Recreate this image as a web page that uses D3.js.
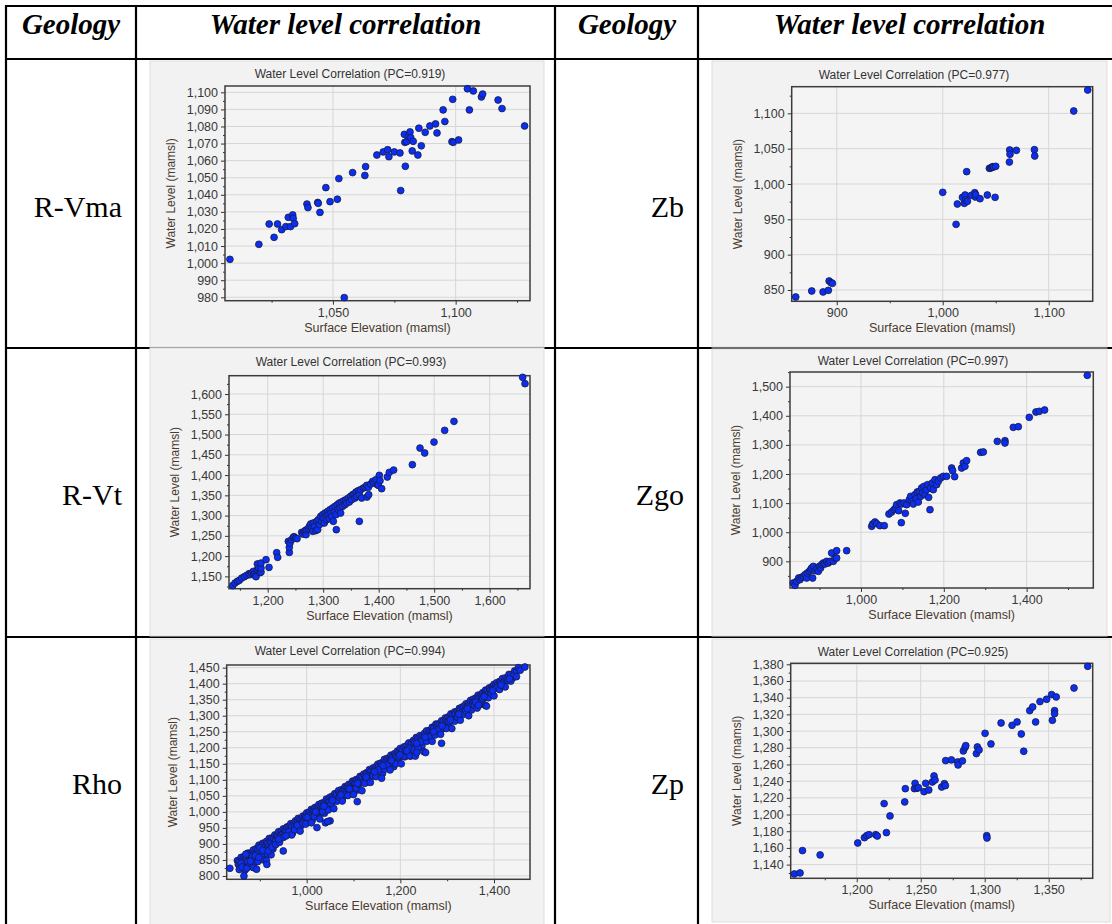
<!DOCTYPE html>
<html>
<head>
<meta charset="utf-8">
<script src="https://cdn.jsdelivr.net/npm/d3@7/dist/d3.min.js"></script>
<style>
  html, body { margin: 0; padding: 0; background: #ffffff; overflow: hidden; }
  svg { display: block; }
</style>
</head>
<body>
<svg id="sheet" width="1112" height="924"></svg>
<script>
// ---- table content ----
const headerLabels = ["Geology", "Water level correlation", "Geology", "Water level correlation"];
const geologyUnits = ["R-Vma", "Zb", "R-Vt", "Zgo", "Rho", "Zp"];
const pcValues = [0.919, 0.977, 0.993, 0.997, 0.994, 0.925];

// ---- scatter data: [surface elevation, water level] in mamsl ----
const rvmaPoints = [
  [1008.0,1002.2],[1019.8,1011.0],[1024.0,1022.9],[1026.0,1015.1],[1027.4,1022.9],[1029.1,1019.6],
  [1030.8,1021.4],[1031.8,1026.8],[1032.7,1021.4],[1033.6,1028.2],[1033.8,1026.2],[1034.4,1023.1],
  [1039.4,1034.6],[1039.8,1032.5],[1043.8,1035.5],[1044.0,1035.0],[1044.7,1029.7],[1047.1,1044.2],
  [1048.8,1036.0],[1051.8,1037.4],[1052.4,1049.5],[1054.6,979.8],[1058.0,1053.0],[1063.0,1051.3],
  [1063.3,1056.5],[1067.9,1063.3],[1070.5,1065.1],[1072.3,1066.4],[1072.8,1062.3],[1075.0,1065.1],
  [1077.3,1064.5],[1077.6,1042.5],[1079.1,1075.4],[1079.3,1070.7],[1079.5,1056.7],[1080.0,1071.1],
  [1080.7,1074.1],[1081.4,1076.8],[1081.7,1073.5],[1082.3,1065.7],[1082.7,1071.3],[1084.6,1063.3],
  [1085.0,1079.0],[1086.0,1068.7],[1087.6,1076.6],[1089.5,1080.3],[1091.8,1081.5],[1092.4,1076.2],
  [1094.9,1089.7],[1095.6,1082.9],[1098.5,1071.1],[1098.8,1095.9],[1099.0,1070.7],[1101.2,1072.1],
  [1104.8,1102.1],[1105.6,1089.7],[1107.2,1100.8],[1110.5,1097.3],[1111.0,1099.0],[1117.3,1095.5],
  [1118.9,1090.5],[1128.1,1080.3]
];

const zbPoints = [
  [861.3,840.1],[876.4,848.6],[887.1,847.2],[892.1,849.5],[892.8,862.7],[894.7,860.4],[895.9,859.4],
  [1000.0,988.2],[1012.6,942.9],[1013.8,971.7],[1018.6,981.1],[1020.4,972.6],[1021.1,984.4],
  [1021.7,977.4],[1022.6,1017.5],[1023.3,975.5],[1027.0,984.0],[1030.2,987.7],[1030.8,981.6],
  [1031.1,984.9],[1035.2,979.2],[1042.1,984.4],[1044.0,1022.2],[1045.3,1022.6],[1046.5,1023.6],
  [1047.2,1024.5],[1047.8,1024.1],[1049.4,981.1],[1050.0,1025.0],[1062.9,1031.1],[1063.2,1048.1],
  [1063.5,1042.0],[1069.5,1047.6],[1086.5,1048.6],[1086.8,1039.6],[1123.6,1103.3],[1136.8,1133.0]
];

const rvtPoints = [
  [1136.9,1127.0],[1141.1,1133.6],[1145.3,1137.7],[1148.9,1140.2],[1153.2,1145.9],[1158.0,1149.2],
  [1162.2,1152.5],[1166.4,1156.6],[1168.2,1154.1],[1171.2,1158.3],[1174.2,1162.4],[1176.0,1155.8],
  [1177.8,1151.7],[1179.0,1149.2],[1181.4,1166.5],[1181.4,1180.5],[1183.8,1170.6],[1186.2,1159.1],
  [1188.0,1160.7],[1188.0,1170.6],[1188.0,1182.9],[1197.0,1191.2],[1202.4,1172.2],[1216.2,1208.4],
  [1218.0,1196.9],[1237.2,1236.4],[1239.0,1209.2],[1239.0,1221.6],[1240.2,1232.3],[1243.2,1240.5],
  [1246.2,1246.3],[1247.4,1247.9],[1250.4,1244.6],[1252.9,1243.0],[1261.3,1258.6],[1263.1,1254.5],
  [1265.5,1259.4],[1267.3,1262.7],[1269.1,1252.9],[1270.3,1265.2],[1273.3,1267.7],[1275.1,1273.4],
  [1277.5,1279.2],[1279.3,1269.3],[1281.1,1261.1],[1282.3,1281.7],[1284.1,1273.4],[1286.5,1262.7],
  [1288.3,1285.8],[1290.1,1265.2],[1291.3,1289.9],[1293.1,1277.5],[1295.5,1298.1],[1297.3,1285.8],
  [1299.1,1302.2],[1300.3,1294.0],[1302.1,1281.7],[1303.3,1306.3],[1305.1,1298.1],[1306.3,1289.9],
  [1308.1,1310.4],[1309.3,1302.2],[1311.1,1292.3],[1312.3,1314.6],[1314.1,1306.3],[1315.3,1298.1],
  [1317.1,1318.7],[1318.3,1285.8],[1320.1,1310.4],[1321.3,1322.8],[1323.1,1302.2],[1323.7,1265.2],
  [1325.5,1326.9],[1327.3,1314.6],[1329.1,1331.0],[1330.3,1318.7],[1331.5,1306.3],[1333.3,1333.5],
  [1335.1,1322.8],[1337.5,1336.8],[1339.3,1326.9],[1341.1,1339.2],[1342.3,1331.0],[1345.3,1343.3],
  [1347.1,1333.5],[1349.5,1347.5],[1351.3,1339.2],[1353.2,1351.6],[1355.6,1353.2],[1357.4,1343.3],
  [1359.2,1358.2],[1360.4,1347.5],[1363.4,1361.5],[1365.2,1351.6],[1365.2,1285.8],[1367.6,1363.9],
  [1369.4,1343.3],[1372.4,1368.0],[1375.4,1369.7],[1378.4,1374.6],[1379.0,1345.8],[1381.4,1369.7],
  [1382.0,1351.6],[1385.6,1377.9],[1389.2,1384.5],[1391.6,1380.4],[1395.2,1388.6],[1397.6,1376.3],
  [1399.4,1374.6],[1401.2,1399.3],[1402.4,1386.1],[1405.4,1366.4],[1415.6,1395.2],[1419.2,1406.7],
  [1427.0,1412.4],[1460.7,1425.6],[1474.5,1466.7],[1482.9,1454.4],[1499.7,1481.5],[1518.9,1510.3],
  [1535.7,1532.5],[1659.5,1641.1],[1663.7,1625.5]
];

const zgoPoints = [
  [836.6,825.5],[840.6,817.5],[844.7,831.3],[849.5,842.7],[852.7,836.9],[856.7,845.0],[860.8,848.4],
  [864.8,854.2],[868.8,842.7],[870.4,859.9],[875.3,865.6],[878.5,871.3],[880.9,877.1],[883.3,842.7],
  [884.9,882.8],[888.9,867.9],[893.0,874.8],[897.0,865.6],[899.4,882.8],[902.6,877.1],[905.0,888.5],
  [909.1,894.2],[913.1,890.8],[917.1,900.0],[921.1,894.2],[925.2,900.0],[929.2,928.6],[933.2,900.0],
  [937.2,911.4],[941.2,936.6],[941.2,911.4],[965.4,936.6],
  [1025.8,1020.2],[1028.2,1028.2],[1033.8,1035.1],[1037.8,1029.4],[1045.9,1022.5],[1056.3,1022.5],
  [1097.4,1032.8],[1107.0,1064.9],
  [1067.6,1062.6],[1074.0,1069.4],[1079.7,1077.4],[1083.7,1083.2],[1086.1,1094.6],[1090.9,1074.0],
  [1094.2,1100.4],[1098.2,1096.9],[1103.8,1100.4],[1110.3,1094.6],[1116.7,1111.8],[1119.9,1123.3],
  [1123.1,1106.1],[1126.4,1096.9],[1130.4,1129.0],[1132.8,1115.2],[1136.0,1138.2],[1138.4,1103.8],
  [1140.8,1140.5],[1144.1,1123.3],[1146.5,1151.9],[1148.9,1134.7],[1152.1,1157.6],[1154.5,1129.0],
  [1158.5,1146.2],[1161.0,1163.3],[1163.4,1119.8],[1166.6,1077.4],[1168.2,1151.9],[1172.2,1169.1],
  [1174.6,1146.2],[1178.7,1180.6],[1182.7,1163.3],[1186.7,1174.8],[1192.3,1186.2],[1198.8,1192.0],
  [1206.8,1192.0],[1218.9,1220.6],[1221.3,1211.4],[1226.2,1190.8],[1243.1,1220.6],[1247.1,1237.8],
  [1251.1,1226.3],[1255.1,1245.8],
  [1288.9,1274.4],[1295.4,1275.6],[1329.2,1312.2],[1347.7,1314.5],[1347.7,1306.5],[1367.8,1360.3],
  [1379.9,1362.6],[1406.4,1394.7],[1422.5,1413.0],[1430.6,1415.3],[1443.4,1419.8],[1546.5,1538.9]
];

const rhoPoints = [
  [852,848],[854,836],[856,847],[858,831],[860,858],[862,848],[864,831],[866,860],[868,847],[870,859],
  [872,834],[874,871],[876,860],[878,853],[880,872],[882,852],[884,872],[886,881],[888,869],[890,850],
  [892,885],[894,871],[896,883],[898,896],[900,872],[902,892],[904,887],[906,902],[908,874],[910,901],
  [912,891],[914,908],[916,902],[918,892],[920,917],[922,911],[924,905],[926,919],[928,897],[930,917],
  [932,928],[934,912],[936,927],[938,922],[940,938],[942,915],[944,933],[946,940],[948,930],[950,947],
  [952,928],[954,944],[956,941],[958,953],[960,931],[962,954],[964,944],[966,963],[968,955],[970,934],
  [972,965],[974,957],[976,972],[978,953],[980,970],[982,980],[984,965],[986,978],[988,957],[990,978],
  [992,987],[994,972],[996,987],[998,983],[1000,997],[1002,975],[1004,993],[1006,1000],[1008,990],[1010,1008],
  [1012,974],[1014,1005],[1016,1002],[1018,1014],[1020,996],[1022,1015],[1024,1008],[1026,1023],[1028,998],[1030,1020],
  [1032,1027],[1034,1014],[1036,1028],[1038,996],[1040,1027],[1042,1040],[1044,1018],[1046,1037],[1048,1031],[1050,1046],
  [1052,1019],[1054,1043],[1056,1050],[1058,1037],[1060,1057],[1062,1048],[1064,1056],[1066,1038],[1068,1066],[1070,1058],
  [1072,1053],[1074,1069],[1076,1041],[1078,1068],[1080,1065],[1082,1079],[1084,1061],[1086,1078],[1088,1075],[1090,1086],
  [1092,1062],[1094,1085],[1096,1078],[1098,1096],[1100,1075],[1102,1095],[1104,1090],[1106,1101],[1108,1068],[1110,1099],
  [1112,1092],[1114,1111],[1116,1100],[1118,1110],[1120,1092],[1122,1118],[1124,1112],[1126,1104],[1128,1122],[1130,1093],
  [1132,1122],[1134,1132],[1136,1119],[1138,1129],[1140,1114],[1142,1137],[1144,1130],[1146,1114],[1148,1141],[1150,1131],
  [1152,1149],[1154,1143],[1156,1132],[1158,1152],[1160,1145],[1162,1120],[1164,1155],[1166,1164],[1168,1147],[1170,1158],
  [1172,1167],[1174,1144],[1176,1168],[1178,1161],[1180,1177],[1182,1156],[1184,1174],[1186,1141],[1188,1182],[1190,1176],
  [1192,1172],[1194,1190],[1196,1162],[1198,1189],[1200,1198],[1202,1184],[1204,1193],[1206,1178],[1208,1203],[1210,1172],
  [1212,1199],[1214,1207],[1216,1194],[1218,1215],[1220,1204],[1222,1174],[1224,1215],[1226,1201],[1228,1223],[1230,1218],
  [1232,1199],[1234,1232],[1236,1217],[1238,1230],[1240,1212],[1242,1238],[1244,1230],[1246,1206],[1248,1238],[1250,1229],
  [1252,1246],[1254,1224],[1256,1253],[1258,1243],[1260,1236],[1262,1254],[1264,1228],[1266,1254],[1268,1264],[1270,1251],
  [1272,1263],[1274,1247],[1276,1274],[1278,1264],[1280,1274],[1282,1260],[1284,1273],[1286,1254],[1288,1284],[1290,1274],
  [1292,1284],[1294,1269],[1296,1293],[1298,1286],[1300,1281],[1302,1296],[1304,1275],[1306,1296],[1308,1306],[1310,1295],
  [1312,1305],[1314,1291],[1316,1312],[1318,1306],[1320,1289],[1322,1314],[1324,1307],[1326,1323],[1328,1318],[1330,1304],
  [1332,1327],[1334,1320],[1336,1329],[1338,1318],[1340,1337],[1342,1307],[1344,1333],[1346,1340],[1348,1332],[1350,1348],
  [1352,1328],[1354,1345],[1356,1352],[1358,1345],[1360,1332],[1362,1356],[1364,1346],[1366,1364],[1368,1357],[1370,1334],
  [1372,1365],[1374,1359],[1376,1372],[1378,1354],[1380,1371],[1382,1380],[1384,1370],[1386,1380],[1388,1368],[1390,1387],
  [1392,1380],[1394,1366],[1396,1391],[1398,1389],[1400,1398],[1402,1385],[1404,1397],[1406,1403],[1408,1395],[1410,1384],
  [1412,1407],[1414,1404],[1418,1416],[1420,1404],[1424,1418],[1428,1416],[1432,1429],[1436,1428],[1440,1418],[1444,1440],
  [1448,1438],[1452,1450],[1456,1442],[1466,1452],
  [962,938],[968,928],[974,944],[980,958],[986,940],[992,964],[998,962],[1004,983],[1010,966],[1016,986],
  [1022,997],[1028,978],[1034,1001],[1040,1017],[1046,1006],[1052,1025],[1058,1010],[1064,1033],[1070,1046],[1076,1034],
  [1082,1053],[1088,1051],[1094,1072],[1100,1054],[1106,1074],[1112,1086],[1118,1066],[1124,1089],[1130,1106],[1136,1092],
  [1142,1112],[1148,1110],[1154,1131],[1160,1105],[1166,1133],[1172,1146],[1178,1131],[1184,1153],[1190,1150],[1196,1172],
  [1202,1150],[1208,1173],[1214,1187],[1220,1175],[1226,1194],[1232,1174],[1238,1200],[1244,1219],[1250,1188],[1256,1220],
  [1262,1234],[1268,1220],[1274,1240],[1280,1256],[1286,1242],[1292,1261],[1298,1260],[1304,1282],[1310,1260],[1316,1283],
  [1322,1295],[1328,1286],[1334,1304],[1340,1316],[1346,1300],[1352,1318],[1358,1332],[1364,1324],[1370,1342],[1376,1354],
  [1382,1332],[1388,1356],[1394,1370],[1400,1362],[1406,1386],[1412,1382],[1418,1394],[1424,1390],[1430,1410],[1436,1408],
  [1442,1424],[1448,1422],
  [1001,983],[1019,1000],[1037,1018],[1055,1036],[1073,1053],[1091,1072],[1109,1089],[1127,1108],[1145,1125],[1163,1144],
  [1181,1160],[1199,1178],[1217,1197],[1235,1214],[1253,1233],[1271,1250],[1289,1268],[1307,1287],[1325,1305],[1343,1322],
  [1361,1342],[1379,1360],[1397,1378],[1415,1396],[1433,1415],
  [860,840],[866,826],[870,868],[874,845],[878,832],[884,860],[888,840],[892,856],[896,845],[900,888],
  [904,862],[908,850],[912,880],[916,868],[920,884],[924,866],[928,884],[868,818],[886,826],[914,848],
  [856,820],[862,828],[872,824],[880,846],[890,864],[898,858],[906,880],[918,878],[926,890],[934,898],
  [942,905],[950,920],[956,925],[940,915],
  [836,824],[866,800],[893,821],[915,836],[950,878],[1108,1032],[1050,972],[1022,951],[1288,1214],[1384,1330],
  [1367,1333],[1214,1190],[1235,1185],[1254,1185],[1040,966],[1045,970]
];

const zpPoints = [
  [1151.3,1128.8],[1155.7,1130.0],[1157.6,1156.8],[1171.4,1151.6],[1200.8,1165.9],[1206.0,1172.3],
  [1207.8,1174.7],[1209.6,1175.9],[1214.8,1175.9],[1216.1,1174.3],[1221.4,1213.1],[1223.2,1178.3],
  [1226.0,1198.3],[1237.5,1215.1],[1238.0,1231.0],[1245.6,1237.4],[1245.1,1231.0],[1247.1,1231.4],
  [1248.2,1232.2],[1252.6,1227.4],[1253.9,1237.4],[1256.3,1229.4],[1259.1,1239.0],[1260.4,1246.2],
  [1261.2,1241.4],[1266.4,1233.0],[1268.5,1237.0],[1269.3,1234.6],[1269.5,1264.6],[1274.0,1265.4],
  [1278.9,1263.0],[1279.2,1259.4],[1282.6,1264.2],[1283.3,1276.2],[1284.6,1280.2],[1285.2,1282.6],
  [1293.5,1273.0],[1294.3,1281.0],[1295.6,1277.4],[1300.3,1297.3],[1301.6,1174.7],[1301.8,1171.9],
  [1304.9,1284.6],[1312.8,1309.7],[1321.4,1306.9],[1325.3,1310.9],[1328.6,1296.5],[1330.5,1275.8],
  [1335.2,1324.5],[1337.5,1328.9],[1339.8,1310.9],[1343.2,1335.3],[1348.4,1338.1],[1352.9,1312.9],
  [1352.3,1343.7],[1354.6,1324.5],[1354.6,1320.9],[1355.9,1340.9],[1369.8,1351.6],[1380.5,1377.6]
];

// ---- axis extents and tick values ----
const rvmaXDomain = [1006.0, 1130.3], rvmaYDomain = [978.0, 1103.7];
const rvmaXTicks = [1050, 1100];
const rvmaYTicks = [980, 990, 1000, 1010, 1020, 1030, 1040, 1050, 1060, 1070, 1080, 1090, 1100];

const zbXDomain = [857.5, 1141.5], zbYDomain = [834.0, 1137.7];
const zbXTicks = [900, 1000, 1100];
const zbYTicks = [850, 900, 950, 1000, 1050, 1100];

const rvtXDomain = [1130.3, 1672.7], rvtYDomain = [1119.6, 1645.2];
const rvtXTicks = [1200, 1300, 1400, 1500, 1600];
const rvtYTicks = [1150, 1200, 1250, 1300, 1350, 1400, 1450, 1500, 1550, 1600];

const zgoXDomain = [828.6, 1561.0], zgoYDomain = [808.4, 1550.4];
const zgoXTicks = [1000, 1200, 1400];
const zgoYTicks = [900, 1000, 1100, 1200, 1300, 1400, 1500];

const rhoXDomain = [829.2, 1476.9], rhoYDomain = [789.6, 1458.3];
const rhoXTicks = [1000, 1200, 1400];
const rhoYTicks = [800, 850, 900, 950, 1000, 1050, 1100, 1150, 1200, 1250, 1300, 1350, 1400, 1450];

const zpXDomain = [1148.4, 1384.4], zpYDomain = [1123.6, 1381.2];
const zpXTicks = [1200, 1250, 1300, 1350];
const zpYTicks = [1140, 1160, 1180, 1200, 1220, 1240, 1260, 1280, 1300, 1320, 1340, 1360, 1380];

// ---- drawing ----
const svg = d3.select("#sheet");
const fmt = d3.format(",");
const chartFont = "'Liberation Sans', Arial, sans-serif";
const tableFont = "'Liberation Serif', 'Times New Roman', serif";

// chart panels: image box [x, y, w, h] and plot area [left, top, right, bottom]
const panels = [
  { points: rvmaPoints, xd: rvmaXDomain, yd: rvmaYDomain, xt: rvmaXTicks, yt: rvmaYTicks,
    box: [150, 61, 394, 286], plot: [225, 86, 530, 300.7], titleX: 350, titleY: 77.5 },
  { points: zbPoints, xd: zbXDomain, yd: zbYDomain, xt: zbXTicks, yt: zbYTicks,
    box: [712, 61, 395, 286], plot: [791.7, 86.7, 1092.7, 301.3], titleX: 914, titleY: 79 },
  { points: rvtPoints, xd: rvtXDomain, yd: rvtYDomain, xt: rvtXTicks, yt: rvtYTicks,
    box: [150, 348, 394, 288], plot: [229, 375.7, 530, 588.7], titleX: 351, titleY: 366 },
  { points: zgoPoints, xd: zgoXDomain, yd: zgoYDomain, xt: zgoXTicks, yt: zgoYTicks,
    box: [712, 349, 395, 287], plot: [790, 372, 1093.3, 588], titleX: 913, titleY: 364.5 },
  { points: rhoPoints, xd: rhoXDomain, yd: rhoYDomain, xt: rhoXTicks, yt: rhoYTicks,
    box: [150, 639, 394, 290], plot: [226.7, 665, 530, 879.3], titleX: 350, titleY: 655 },
  { points: zpPoints, xd: zpXDomain, yd: zpYDomain, xt: zpXTicks, yt: zpYTicks,
    box: [712, 639, 398, 283], plot: [790.7, 663.3, 1092.7, 878.3], titleX: 913, titleY: 656 }
];

// table grid
const colX = [6, 136, 555, 698, 1125];
const rowY = [6, 59, 348, 637, 930];
const grid = svg.append("g").attr("stroke", "#000").attr("stroke-width", 2.2);
rowY.forEach(y => grid.append("line").attr("x1", colX[0] - 1).attr("x2", colX[4]).attr("y1", y).attr("y2", y));
colX.forEach(x => grid.append("line").attr("x1", x).attr("x2", x).attr("y1", rowY[0] - 1).attr("y2", rowY[4]));

// header row
const headerCenters = [71, 345.5, 627, 909.5];
headerLabels.forEach((t, i) => {
  svg.append("text")
    .attr("x", headerCenters[i]).attr("y", 34)
    .attr("text-anchor", "middle")
    .attr("font-family", tableFont).attr("font-weight", "bold").attr("font-style", "italic")
    .attr("font-size", 29).attr("fill", "#000")
    .text(t);
});

// geology labels
const labelRight = [122, 684];
const labelBase = [217, 505, 794];
geologyUnits.forEach((t, i) => {
  svg.append("text")
    .attr("x", labelRight[i % 2]).attr("y", labelBase[Math.floor(i / 2)])
    .attr("text-anchor", "end")
    .attr("font-family", tableFont).attr("font-size", 30).attr("fill", "#000")
    .text(t);
});

function minorTicks(ticks, domain) {
  const step = ticks.length > 1 ? ticks[1] - ticks[0] : 50;
  const out = [];
  for (let v = ticks[0] - step / 2; v <= domain[1]; v += step) if (v >= domain[0]) out.push(v);
  for (let v = ticks[0] - step * 1.5; v >= domain[0]; v -= step) out.push(v);
  return out;
}

panels.forEach((p, i) => {
  const g = svg.append("g");
  const [bx, by, bw, bh] = p.box;
  const [L, T, R, B] = p.plot;

  g.append("rect").attr("x", bx).attr("y", by).attr("width", bw).attr("height", bh)
    .attr("fill", "#f2f2f2").attr("stroke", "#dedede").attr("stroke-width", 1);

  g.append("rect").attr("x", L).attr("y", T).attr("width", R - L).attr("height", B - T)
    .attr("fill", "#f4f4f4");

  const x = d3.scaleLinear().domain(p.xd).range([L, R]);
  const y = d3.scaleLinear().domain(p.yd).range([B, T]);

  // gridlines
  g.append("g").selectAll("line").data(p.yt).join("line")
    .attr("x1", L).attr("x2", R).attr("y1", d => y(d)).attr("y2", d => y(d))
    .attr("stroke", "#d6d6d6").attr("stroke-width", 1);
  g.append("g").selectAll("line").data(p.xt).join("line")
    .attr("y1", T).attr("y2", B).attr("x1", d => x(d)).attr("x2", d => x(d))
    .attr("stroke", "#d6d6d6").attr("stroke-width", 1);

  // axes
  const xAxis = g.append("g").attr("transform", `translate(0,${B})`)
    .call(d3.axisBottom(x).tickValues(p.xt).tickFormat(fmt).tickSize(4).tickPadding(3));
  const yAxis = g.append("g").attr("transform", `translate(${L},0)`)
    .call(d3.axisLeft(y).tickValues(p.yt).tickFormat(fmt).tickSize(4).tickPadding(3));
  [xAxis, yAxis].forEach(a => {
    a.select(".domain").remove();
    a.selectAll("line").attr("stroke", "#333");
    a.selectAll("text").attr("font-family", chartFont).attr("font-size", 12.5).attr("fill", "#383838");
  });
  g.append("g").attr("transform", `translate(0,${B})`)
    .call(d3.axisBottom(x).tickValues(minorTicks(p.xt, p.xd)).tickFormat("").tickSize(2))
    .call(a => { a.select(".domain").remove(); a.selectAll("line").attr("stroke", "#333"); });
  g.append("g").attr("transform", `translate(${L},0)`)
    .call(d3.axisLeft(y).tickValues(minorTicks(p.yt, p.yd)).tickFormat("").tickSize(2))
    .call(a => { a.select(".domain").remove(); a.selectAll("line").attr("stroke", "#333"); });

  // plot frame
  g.append("rect").attr("x", L).attr("y", T).attr("width", R - L).attr("height", B - T)
    .attr("fill", "none").attr("stroke", "#3c3c3c").attr("stroke-width", 1.5);

  // titles
  g.append("text").attr("x", p.titleX).attr("y", p.titleY).attr("text-anchor", "middle")
    .attr("font-family", chartFont).attr("font-size", 12).attr("fill", "#333")
    .text(`Water Level Correlation (PC=${pcValues[i]})`);
  g.append("text").attr("x", (L + R) / 2).attr("y", B + 31).attr("text-anchor", "middle")
    .attr("font-family", chartFont).attr("font-size", 12.5).attr("fill", "#4a3b30")
    .text("Surface Elevation (mamsl)");
  g.append("text")
    .attr("transform", `translate(${L - 54},${(T + B) / 2}) rotate(-90)`)
    .attr("text-anchor", "middle").attr("dominant-baseline", "central")
    .attr("font-family", chartFont).attr("font-size", 12).attr("fill", "#4a3b30")
    .text("Water Level (mamsl)");

  // points
  g.append("g").selectAll("circle").data(p.points).join("circle")
    .attr("cx", d => x(d[0])).attr("cy", d => y(d[1])).attr("r", 3.4)
    .attr("fill", "#0a2ff2").attr("stroke", "#1a1a40").attr("stroke-width", 0.8);
});
</script>
</body>
</html>
